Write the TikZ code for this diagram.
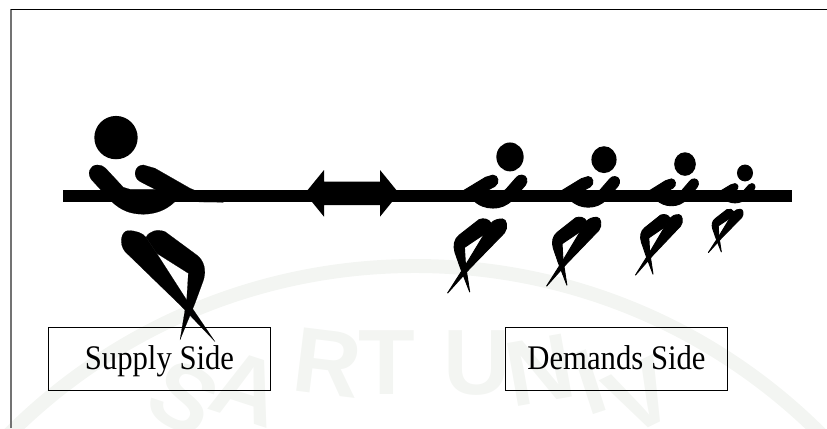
\documentclass[tikz,border=0pt]{standalone}
\usepackage{fontspec}
\setmainfont{Liberation Serif}
\setsansfont{Liberation Sans}
\newfontfamily\sidefont[FakeStretch=0.89]{Liberation Serif}
\definecolor{MarkGrey}{HTML}{F3F5F2}
\tikzset{
  sidebox/.style={rectangle, draw=black, line width=0.75pt, minimum width=5.86cm, minimum height=1.67cm, inner sep=0pt, text height=20pt, text depth=2.8pt, font=\sidefont\fontsize{26}{30}\selectfont, align=center},
  markletter/.style={text=MarkGrey, inner sep=0pt, font=\sffamily\bfseries\fontsize{70}{70}\selectfont},
  puller/.pic={
    % head
    \fill (0,-174) circle (65);
    % arms and belly
    \filldraw[line join=round] (-31,-82) -- (22,-25) -- (42,-19) -- (117,-19) -- (177,18) .. controls (150,45) and (115,56) .. (82,56) .. controls (45,56) and (15,45) .. (-13,18) -- (-73,-47) .. controls (-88,-65) and (-80,-92) .. (-56,-92) .. controls (-47,-92) and (-38,-90) .. (-31,-82) -- cycle;
    \filldraw[line join=round] (82,-92) -- (117,-82) -- (222,-22) -- (322,20) -- (177,18) -- (117,-19) -- (72,-42) .. controls (48,-56) and (55,-92) .. (82,-92) -- cycle;
    % legs
    \filldraw[line join=round] (37,105) .. controls (15,105) and (8,145) .. (27,168) -- (192,328) -- (297,438) -- (212,313) -- (122,173) -- (90,125) .. controls (80,112) and (60,105) .. (37,105) -- cycle;
    \filldraw[line join=round] (90,125) .. controls (100,105) and (125,100) .. (147,108) -- (242,178) .. controls (265,195) and (272,225) .. (262,255) -- (237,323) -- (192,433) -- (212,313) -- (217,233) -- (122,173) -- cycle;
  }
}

\begin{document}
\begin{tikzpicture}[x=0.0265cm, y=-0.0265cm]
  \useasboundingbox (0,0) rectangle (827,428);

  % Watermark
  \begin{scope}
    \clip (0,0) rectangle (827,428);
    \draw[MarkGrey, line width=0.37cm] (415,840) circle (574);
    \foreach \letter/\px/\py/\turn in {S/184/398/-28, A/247/388/-18, R/328/363/-7, T/387/363/0, U/477/363/0, N/540/370/10, I/590/382/18, V/640/396/26} {
      \node[markletter, rotate=\turn] (mark\letter) at (\px,\py) {\letter};
    }
  \end{scope}

  % Frame
  \draw[black!55, line width=1.1pt] (11,428) -- (11,9);
  \draw[line width=0.9pt] (10.5,9.5) -- (827,9.5);

  % Sides
  \node[sidebox] (supply) at (159.5,358.5) {Supply Side};
  \node[sidebox] (demands) at (616.5,358.5) {Demands Side};

  % Rope and arrow
  \fill (63,189.5) rectangle (792,201.7);
  \fill (305,193.3) -- (324,170) -- (324,181.7) -- (380,181.7) -- (380,170) -- (399,193.3) -- (380,216.7) -- (380,205) -- (324,205) -- (324,216.7) -- cycle;

  % Supply side puller
  \pic[scale=1/3, line width=0.1pt] (big) at (116,195.6) {puller};

  % Demand side pullers
  \foreach \i/\px/\sx/\sy in {1/510/0.63/0.667, 2/604/0.58/0.62, 3/685/0.5/0.544, 4/745/0.37/0.39} {
    \pic[xscale=-\sx/3, yscale=\sy/3, line width=0.7pt] (small\i) at (\px,195.6) {puller};
  }
\end{tikzpicture}
\end{document}
